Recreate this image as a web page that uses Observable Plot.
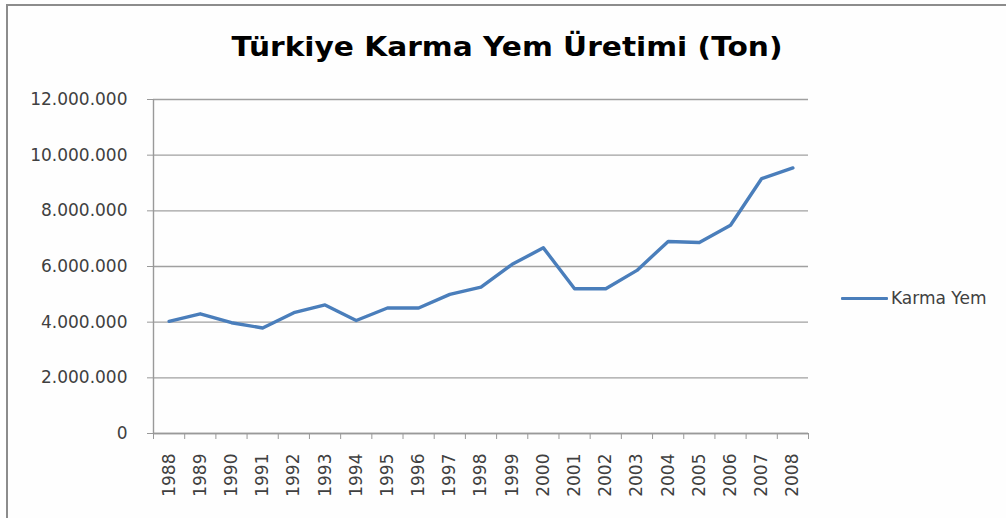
<!DOCTYPE html>
<html>
<head>
<meta charset="utf-8">
<script src="https://cdn.jsdelivr.net/npm/d3@7"></script>
<script src="https://cdn.jsdelivr.net/npm/@observablehq/plot@0.6"></script>
<style>
  html, body { margin: 0; padding: 0; background: #ffffff; }
  #wrap { position: relative; width: 1006px; height: 518px; overflow: hidden; background: #fefefe; font-family: "DejaVu Sans", sans-serif; }
  #frame { position: absolute; left: 6px; top: 4px; width: 1100px; height: 600px; border-top: 2px solid #8c8c8c; border-left: 2px solid #8c8c8c; }
  #chart { position: absolute; left: 0; top: 0; }
  #title { position: absolute; left: 0; width: 1014px; top: 32px; text-align: center; font: bold 26px "DejaVu Sans", sans-serif; color: #000; white-space: nowrap; transform: scaleX(1.14); transform-origin: 507px 50%; }
  #legend { position: absolute; left: 841px; top: 288px; display: flex; align-items: center; font: 17px "DejaVu Sans", sans-serif; color: #404040; white-space: nowrap; }
  #legend .sw { width: 47px; height: 3px; background: #4a7ebb; border-radius: 1px; margin-right: 3px; }
</style>
</head>
<body>
<div id="wrap">
  <div id="frame"></div>
  <div id="chart"></div>
  <div id="title">Türkiye Karma Yem Üretimi (Ton)</div>
  <div id="legend"><div class="sw"></div><span>Karma Yem</span></div>
</div>
<script>
const years = [1988, 1989, 1990, 1991, 1992, 1993, 1994, 1995, 1996, 1997, 1998,
               1999, 2000, 2001, 2002, 2003, 2004, 2005, 2006, 2007, 2008];
const karmaYem = [4030000, 4300000, 3980000, 3790000, 4340000, 4620000, 4060000,
                  4510000, 4510000, 5000000, 5260000, 6080000, 6670000, 5200000,
                  5200000, 5860000, 6900000, 6860000, 7480000, 9160000, 9540000];
const yTicks = [0, 2000000, 4000000, 6000000, 8000000, 10000000, 12000000];
const seriesName = "Karma Yem";

const data = years.map((y, i) => ({year: y, value: karmaYem[i]}));
const boundaries = years.map(y => y - 0.5).concat([years[years.length - 1] + 0.5]);
const fmt = d => d3.format(",")(d).replace(/,/g, ".");

const chart = Plot.plot({
  width: 1006,
  height: 518,
  marginLeft: 153,
  marginRight: 198,
  marginTop: 99,
  marginBottom: 85,
  x: {type: "linear", domain: [boundaries[0], boundaries[boundaries.length - 1]]},
  y: {domain: [0, 12000000]},
  style: {fontFamily: "DejaVu Sans", fontSize: "17px", color: "#404040", background: "transparent", overflow: "visible"},
  marks: [
    Plot.gridY(yTicks, {stroke: "#a0a0a0", strokeOpacity: 1, strokeWidth: 1.4}),
    Plot.axisY(yTicks, {tickSize: 6, tickPadding: 20, tickFormat: fmt, stroke: "#999", strokeOpacity: 1, label: null, fill: "#404040"}),
    Plot.ruleX([boundaries[0]], {y1: 0, y2: 12000000, stroke: "#999", strokeWidth: 1.4}),
    Plot.axisX(boundaries, {tickSize: 6, tickFormat: () => "", stroke: "#999", strokeOpacity: 1, label: null}),
    Plot.axisX(years, {tickSize: 0, tickRotate: -90, tickPadding: 20, tickFormat: d => String(d), label: null, fill: "#404040"}),
    Plot.ruleY([0], {stroke: "#999", strokeWidth: 1.4}),
    Plot.line(data, {x: "year", y: "value", stroke: "#4a7ebb", strokeWidth: 3.4, strokeLinejoin: "round", strokeLinecap: "round"})
  ]
});
document.getElementById("chart").appendChild(chart);
document.querySelector("#legend span").textContent = seriesName;
</script>
</body>
</html>
